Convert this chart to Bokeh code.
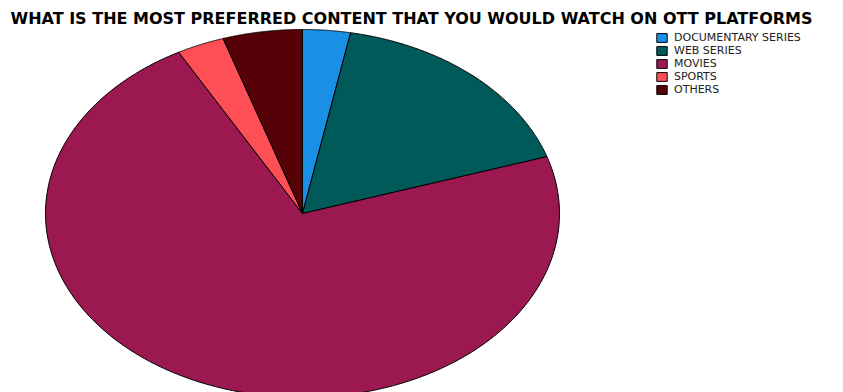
import numpy as np
from bokeh.plotting import figure
from bokeh.models import ColumnDataSource, Range1d, Label, Legend, LegendItem
from bokeh.embed import file_html
from bokeh.resources import INLINE

categories = ["DOCUMENTARY SERIES", "WEB SERIES", "MOVIES", "SPORTS", "OTHERS"]
values = [3, 17, 72, 3, 5]
colors = ["#1A8FE6", "#005A5A", "#9C1850", "#FF4F56", "#560007"]
title_text = "WHAT IS THE MOST PREFERRED CONTENT THAT YOU WOULD WATCH ON OTT PLATFORMS"

W, H = 843, 392
cx, cy = 302, 213     # pie centre in pixels (from top-left)
rx, ry = 257, 184     # pie radii in pixels

p = figure(width=W, height=H, output_backend="svg", toolbar_location=None,
           x_axis_location=None, y_axis_location=None, min_border=0,
           x_range=Range1d(-cx / rx, (W - cx) / rx),
           y_range=Range1d(-(H - cy) / ry, cy / ry))
p.grid.visible = False
p.outline_line_color = None
p.background_fill_color = "white"

total = float(sum(values))
cum = np.concatenate([[0], np.cumsum(values)]) / total * 2 * np.pi
renderers = []
for i, (cat, col) in enumerate(zip(categories, colors)):
    t = np.linspace(cum[i], cum[i + 1], 200)
    xs = np.concatenate([[0], np.sin(t), [0]])
    ys = np.concatenate([[0], np.cos(t), [0]])
    r = p.patch(xs, ys, fill_color=col, line_color="black", line_width=1)
    renderers.append(r)

# one single-row legend per item so rows can sit 13 px apart
row_step = 13
first_bottom = 348
for i, (cat, r) in enumerate(zip(categories, renderers)):
    lg = Legend(items=[LegendItem(label=cat, renderers=[r])],
                location=(655, first_bottom - i * row_step),
                glyph_width=13, glyph_height=11, label_height=11, spacing=0,
                label_standoff=6, padding=0, margin=0,
                label_text_font="DejaVu Sans", label_text_font_size="11px",
                label_text_color="#222222",
                border_line_color=None, background_fill_alpha=0)
    p.add_layout(lg, "center")

p.add_layout(Label(x=10, y=H - 18, x_units="screen", y_units="screen",
                   text=title_text, text_font="DejaVu Sans",
                   text_font_size="16px", text_font_style="bold",
                   text_baseline="middle", text_color="black"))

open("out.html", "w").write(file_html(p, INLINE))
